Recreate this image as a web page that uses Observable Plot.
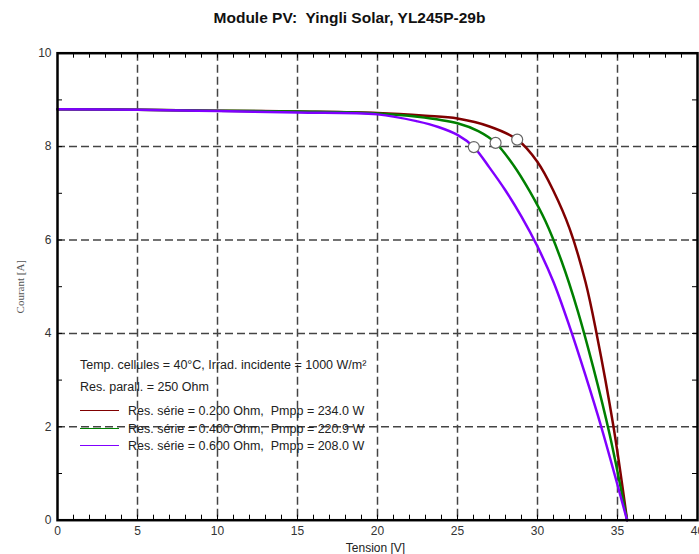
<!DOCTYPE html>
<html><head><meta charset="utf-8">
<script src="https://cdn.jsdelivr.net/npm/d3@7"></script>
<script src="https://cdn.jsdelivr.net/npm/@observablehq/plot@0.6"></script>
<style>
body{margin:0;background:#fff;font-family:"Liberation Sans",Arial,sans-serif;}
#wrap{position:relative;width:699px;height:554px;overflow:hidden;}
#title{position:absolute;left:0;top:9px;width:699px;text-align:center;font-weight:bold;font-size:15.5px;line-height:18px;color:#111;white-space:pre;}
#chart{position:absolute;left:0;top:40px;}
.lg{position:absolute;font-size:12.5px;line-height:14px;color:#222;white-space:pre;}
.sw{position:absolute;height:0;border-top:1.5px solid;}
</style></head>
<body>
<div id="wrap">
  <div id="title"></div>
  <div id="chart"></div>
  <div id="legend"></div>
</div>
<script>
// ---- data ----
const titleText = "Module PV:  Yingli Solar, YL245P-29b";
const xLabel = "Tension [V]";
const yLabel = "Courant [A]";
const conditions = ["Temp. cellules = 40°C, Irrad. incidente = 1000 W/m²", "Res. parall. = 250 Ohm"];
const resSerie = ["0.200", "0.400", "0.600"];
const pmpp = ["234.0", "220.9", "208.0"];
const colors = ["#800000", "#008000", "#8000ff"];

const xTicks = [0, 5, 10, 15, 20, 25, 30, 35, 40];
const yTicks = [0, 2, 4, 6, 8, 10];
const xGrid = [5, 10, 15, 20, 25, 30, 35];
const yGrid = [2, 4, 6, 8];
const xMinor = d3.range(1, 40);
const yMinor = d3.range(1, 10);

// Rs = 0.200 Ohm
const v1 = [0, 5, 10, 15, 20, 23, 25, 27, 28.73, 30, 31, 32, 33, 33.69, 34.75, 35.6];
const i1 = [8.80, 8.79, 8.77, 8.75, 8.72, 8.66, 8.60, 8.43, 8.15, 7.67, 7.05, 6.25, 5.1, 4.0, 2.0, 0];
// Rs = 0.400 Ohm
const v2 = [0, 5, 10, 15, 20, 22.5, 25, 26.3, 27.38, 28.5, 29.5, 30.5, 31.5, 32.5, 33.5, 34.5, 35.6];
const i2 = [8.80, 8.79, 8.77, 8.75, 8.71, 8.64, 8.50, 8.33, 8.08, 7.6, 7.05, 6.4, 5.55, 4.5, 3.25, 1.85, 0];
// Rs = 0.600 Ohm
const v3 = [0, 5, 10, 15, 20, 22.5, 23.8, 25, 26.02, 27, 28, 29, 30, 31, 32, 33, 34, 35.6];
const i3 = [8.80, 8.79, 8.76, 8.73, 8.69, 8.54, 8.42, 8.25, 7.99, 7.55, 7.06, 6.5, 5.86, 5.1, 4.15, 3.1, 1.98, 0];

const mppV = [28.73, 27.38, 26.02];
const mppI = [8.15, 8.08, 7.99];

// ---- build ----
const curves = [[v1, i1], [v2, i2], [v3, i3]].map(([v, i]) => v.map((x, k) => ({V: x, I: i[k]})));
const mpp = mppV.map((v, k) => ({V: v, I: mppI[k]}));

const W = 699, H = 514, mL = 57, mR = 2, mT = 12.7, mB = 34.3;
const fw = W - mL - mR, fh = H - mT - mB;
const dash = {stroke: "#444", strokeOpacity: 1, strokeWidth: 1.5, strokeDasharray: "8,4"};

const chart = Plot.plot({
  width: W, height: H,
  marginLeft: mL, marginRight: mR, marginTop: mT, marginBottom: mB,
  x: {domain: [0, 40]},
  y: {domain: [0, 10]},
  style: {fontFamily: "Liberation Sans, Arial, sans-serif", fontSize: "12px", color: "#333", background: "white"},
  marks: [
    Plot.gridX(xGrid, dash),
    Plot.gridY(yGrid, dash),
    Plot.tickX(xMinor, {insetTop: fh - 5, stroke: "#000", strokeWidth: 1}),
    Plot.tickX(xMinor, {insetBottom: fh - 5, stroke: "#000", strokeWidth: 1}),
    Plot.tickY(yMinor, {insetRight: fw - 5, stroke: "#000", strokeWidth: 1}),
    Plot.tickY(yMinor, {insetLeft: fw - 5, stroke: "#000", strokeWidth: 1}),
    Plot.axisX(xTicks, {tickSize: 0, tickPadding: 6, label: null}),
    Plot.axisY(yTicks, {tickSize: 0, tickPadding: 6, label: null}),
    ...curves.map((c, k) => Plot.line(c, {x: "V", y: "I", stroke: colors[k], strokeWidth: 2.5, curve: "catmull-rom"})),
    Plot.dot(mpp, {x: "V", y: "I", r: 5.5, fill: "white", stroke: "#666", strokeWidth: 1.2}),
    Plot.frame({stroke: "#000", strokeWidth: 2.5}),
    Plot.text([xLabel], {frameAnchor: "bottom", lineAnchor: "middle", textAnchor: "middle", dx: -2, dy: 27.5, fontSize: 12, fill: "#222"}),
    Plot.text([yLabel], {frameAnchor: "left", textAnchor: "middle", lineAnchor: "middle", dx: -37, rotate: -90, fontSize: 11, fill: "#555", fontFamily: "Liberation Serif, serif"})
  ]
});
document.getElementById("chart").appendChild(chart);
document.getElementById("title").textContent = titleText;

// legend overlay
const lg = document.getElementById("legend");
const rowsY = [365, 387.3];
conditions.forEach((t, k) => {
  const d = document.createElement("div");
  d.className = "lg"; d.textContent = t;
  d.style.left = "80px"; d.style.top = (rowsY[k] - 7) + "px";
  lg.appendChild(d);
});
const swY = [411, 428.7, 445.7];
resSerie.forEach((r, k) => {
  const s = document.createElement("div");
  s.className = "sw"; s.style.left = "80px"; s.style.width = "39px";
  s.style.top = (swY[k] - 0.75) + "px"; s.style.borderColor = colors[k];
  lg.appendChild(s);
  const d = document.createElement("div");
  d.className = "lg";
  d.textContent = `Res. série = ${r} Ohm,  Pmpp = ${pmpp[k]} W`;
  d.style.left = "128px"; d.style.top = (swY[k] - 7) + "px";
  lg.appendChild(d);
});
</script>
</body></html>
